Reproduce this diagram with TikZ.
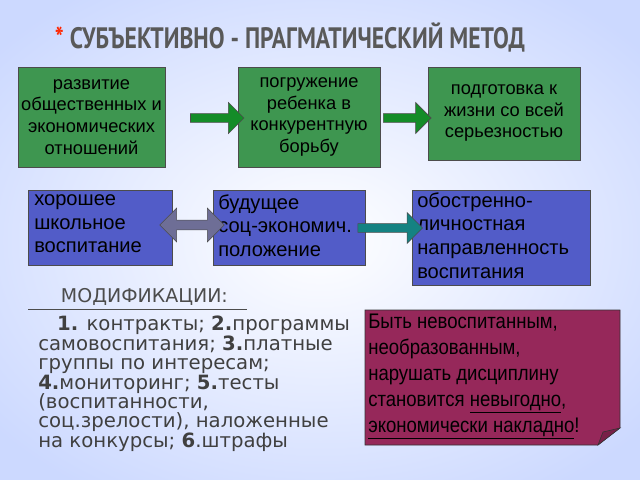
\documentclass[tikz,border=0pt]{standalone}
\usepackage{fontspec}
\setmainfont{Liberation Sans}
\newfontfamily\listfont{DejaVu Sans}
\newfontfamily\notefont[FakeStretch=0.88]{Liberation Sans}
\newfontfamily\titlefont[FakeStretch=0.8]{PT Sans}
\usetikzlibrary{shapes.arrows,positioning}
\definecolor{boxgreen}{RGB}{62,150,80}
\definecolor{boxblue}{RGB}{82,92,200}
\definecolor{boxplum}{RGB}{150,40,90}
\definecolor{arrgreen}{RGB}{20,140,40}
\definecolor{arrteal}{RGB}{20,130,130}
\definecolor{arrgray}{RGB}{110,110,150}
\tikzset{
  btext/.style={font=\fontsize{14.3}{17}\selectfont,align=left,anchor=north west,inner sep=0pt},
  gtext/.style={font=\fontsize{13}{15.5}\selectfont,align=center},
  sarr/.style={single arrow,draw=black!70,minimum height=#1,minimum width=22pt,single arrow head extend=3pt,inner sep=1pt},
}
\begin{document}
\begin{tikzpicture}[x=0.025cm,y=-0.025cm]
\useasboundingbox (0,0) rectangle (640,480);
\shade[inner color=white,outer color=cyan!25!blue!20] (-100,-60) rectangle (740,540);
% title
\node[anchor=west,text=black!65,font=\titlefont\bfseries\fontsize{21}{24}\selectfont] (title) at (50,37)
  {\textcolor{red!70!orange}{*}\ СУБЪЕКТИВНО - ПРАГМАТИЧЕСКИЙ МЕТОД};
% green row
\draw[draw=black!70,fill=boxgreen] (18,67) rectangle (165,167);
\node[gtext] (devt) at (91.5,117) {развитие\\общественных и\\экономических\\ отношений};
\draw[draw=black!70,fill=boxgreen] (238,67) rectangle (380,167);
\node[gtext] (dive) at (309,117) {погружение\\ребенка в\\конкурентную\\борьбу};
\draw[draw=black!70,fill=boxgreen] (428,67) rectangle (580,160);
\node[gtext] (prep) at (504,113) {подготовка к\\жизни со всей\\серьезностью};
\node[sarr=38,fill=arrgreen] (a1) at (215,118) {};
\node[sarr=34,fill=arrgreen] (a2) at (405,118) {};
% blue row
\draw[draw=black!70,fill=boxblue] (28,190) rectangle (172,265);
\node[btext] (good) at (34,194) {хорошее\\школьное\\воспитание};
\draw[draw=black!70,fill=boxblue] (213,190) rectangle (365,265);
\node[btext] (fut) at (218,194) {будущее\\соц-экономич.\\положение};
\draw[draw=black!70,fill=boxblue] (412,190) rectangle (590,285);
\node[btext] (sharp) at (417,192) {обостренно-\\личностная\\направленность\\воспитания};
\node[double arrow,draw=black!70,fill=arrgray,minimum height=46,minimum width=24pt,double arrow head extend=3pt,inner sep=1pt] (dbl) at (192,225) {};
\node[sarr=46,fill=arrteal] (a3) at (388,228) {};
% modifications
\node[anchor=west,text=black!70,font=\listfont\fontsize{13.5}{15}\selectfont] (mod) at (56,297) {МОДИФИКАЦИИ:};
\draw[black!70] (28,309) -- (247,309);
\node[anchor=north west,align=left,text=black!75,font=\listfont\fontsize{14}{13.8}\selectfont,inner sep=0pt] (list) at (38,316)
 {\ \ \ \textbf{1.} контракты; \textbf{2.}программы\\самовоспитания; \textbf{3.}платные\\группы по интересам;\\\textbf{4.}мониторинг; \textbf{5.}тесты\\(воспитанности,\\соц.зрелости), наложенные\\на конкурсы; \textbf{6}.штрафы};
% note
\draw[black!80,fill=boxplum] (365,310) -- (620,310) -- (620,428) -- (598,445) -- (365,445) -- cycle;
\draw[black!80,fill=boxplum!80!black] (598,445) -- (603,432) -- (620,428) -- cycle;
\node[anchor=north west,align=left,font=\notefont\fontsize{15}{18.4}\selectfont,inner sep=0pt] (note) at (368,314)
 {Быть невоспитанным,\\необразованным,\\нарушать дисциплину\\становится \underline{невыгодно},\\\underline{экономически накладно}!};
\end{tikzpicture}
\end{document}
